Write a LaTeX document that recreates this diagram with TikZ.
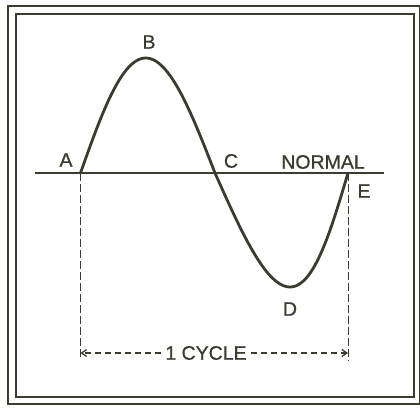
\documentclass[tikz,border=0pt]{standalone}
\usepackage{fontspec}
\setmainfont{Liberation Sans}
\newfontfamily\lettering[FakeBold=0.8]{Liberation Sans}
\usetikzlibrary{arrows.meta}
\definecolor{ink}{RGB}{58,60,48}
\begin{document}
\begin{tikzpicture}[x=1pt,y=-1pt,ink,
  lbl/.style={font=\lettering\fontsize{19.5}{20}\selectfont,inner sep=0pt},
  guide/.style={line width=1pt,dash pattern=on 8pt off 3pt},
  dimline/.style={line width=1.1pt,dash pattern=on 6pt off 4pt},
  tip/.style={-{Straight Barb[length=5pt,width=7pt,line width=1.3pt]}}]
\useasboundingbox[fill=white] (0,0) rectangle (420,407);
% Draw frame
\draw[line width=2pt] (8,6) rectangle (419.5,404);
\draw[line width=1.3pt] (16,14) rectangle (414,397);

% Draw normal line
\coordinate (L) at (35,173);
\coordinate (R) at (384,173);
\draw[line width=1.4pt] (L) -- (R);

% Points on the wave
\coordinate (pA) at (80.5,173);
\coordinate (pE) at (348,173);
\coordinate (footA) at (80.5,359);
\coordinate (footE) at (348,361);

% Draw wave
\draw[line width=2.8pt,line cap=round]
  plot[domain=0:180,samples=60,variable=\t] ({80.5+\t/180*134.5-2*sin(\t)},{173-115*sin(\t)})
  -- plot[domain=0:180,samples=60,variable=\t] ({215+\t/180*133+8.5*sin(\t)},{173+114*sin(\t)});

% Label points
\node[lbl] (A) at (66,160) {A};
\node[lbl] (B) at (149,42) {B};
\node[lbl] (C) at (231,161) {C};
\node[lbl] (normal) at (323,162) {NORMAL};
\node[lbl] (E) at (364,191) {E};
\node[lbl] (D) at (290,309) {D};

% Draw guide lines
\draw[guide] (pA) -- (footA);
\draw[guide] (pE) -- (footE);

% Mark one cycle
\node[lbl,inner xsep=4pt] (cycle) at (206,353) {1 CYCLE};
\coordinate (dimA) at (80.5,353);
\coordinate (dimE) at (348,353);
\draw[dimline,tip] (cycle.west) -- (dimA);
\draw[dimline,tip] (cycle.east) -- (dimE);
\end{tikzpicture}
\end{document}
